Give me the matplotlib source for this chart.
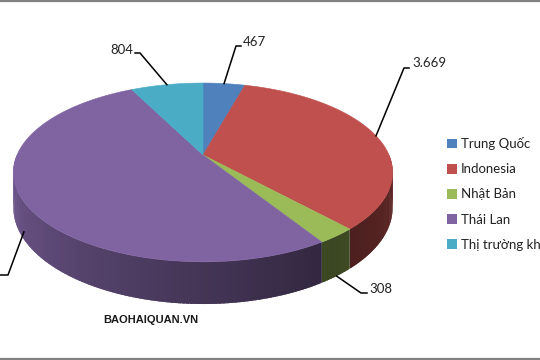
import numpy as np
import matplotlib
matplotlib.use("Agg")
import matplotlib.pyplot as plt
from matplotlib.patches import Patch
from matplotlib.lines import Line2D
from matplotlib.colors import to_rgb

plt.rcParams['font.family'] = ['Lato', 'Noto Sans', 'DejaVu Sans']

# --- dữ liệu ---
categories = ['Trung Quốc', 'Indonesia', 'Nhật Bản', 'Thái Lan', 'Thị trường khác']
values = [467, 3669, 308, 5580, 804]
value_labels = ['467', '3.669', '308', '5.580', '804']
colors = ['#4f81bd', '#c0504d', '#9bbb59', '#8064a2', '#4bacc6']

# --- hình chiếu phối cảnh của bánh 3D ---
K = 0.195       # mức phối cảnh (phía sau nhỏ lại)
THICK = 0.395   # độ dày bánh
CX, CY, SX, SY = 203, 155, 186, 86   # vị trí tâm và tỷ lệ (pixel)


def proj(theta, r=1.0, z=0.0):
    t = np.radians(theta)
    X = r * np.sin(t)
    Y = r * np.cos(t)
    w = 1 + K * Y
    return X / w, (Y + z) / w


def px(x, y):
    # đổi toạ độ pixel của ảnh sang toạ độ trục
    return (x - CX) / SX, (CY - y) / SY


def shade(theta):
    if theta >= 145:
        return min(0.88, 0.38 + 0.0043 * (theta - 145))
    return min(0.6, 0.38 + 0.0025 * (145 - theta))


fig = plt.figure(figsize=(5.4, 3.6), dpi=100)
ax = fig.add_axes([0, 0, 1, 1])
ax.set_xlim(px(0, 0)[0], px(540, 0)[0])
ax.set_ylim(px(0, 360)[1], px(0, 0)[1])
ax.axis('off')

total = sum(values)
ends = np.cumsum(values) / total * 360
starts = np.concatenate([[0], ends[:-1]])

# mặt bên (chỉ nửa phía trước), chia thành dải nhỏ để tô chuyển màu
quads = []
for s, e, c in zip(starts, ends, colors):
    a, b = max(s, 90), min(e, 270)
    if a >= b:
        continue
    n = max(2, int((b - a) / 1.0))
    th = np.linspace(a, b, n + 1)
    base = np.array(to_rgb(c))
    for t1, t2 in zip(th[:-1], th[1:]):
        tm = (t1 + t2) / 2
        # chồng lên dải kế bên một chút để không thấy đường nối
        lo = t1 - 0.4 if t1 > a else t1
        hi = t2 + 0.4 if t2 < b else t2
        pts = [proj(lo), proj(hi), proj(hi, z=-THICK), proj(lo, z=-THICK)]
        col = np.clip(base * shade(tm), 0, 1)
        quads.append((np.cos(np.radians(tm)), pts, col))

quads.sort(key=lambda q: -q[0])
for _, pts, col in quads:
    xs, ys = zip(*pts)
    ax.fill(xs, ys, color=col, lw=0)

# mặt trên
for s, e, c in zip(starts, ends, colors):
    th = np.linspace(s, e, max(3, int(e - s) * 2))
    xs, ys = proj(th)
    xs = np.concatenate([[0], xs])
    ys = np.concatenate([[0], ys])
    ax.fill(xs, ys, color=c, lw=0.4, ec=c)

# nhãn giá trị với đường dẫn
label_layout = [
    # (z trên mép, điểm gấp, điểm cuối, vị trí chữ, căn lề)
    (0.0, (236, 46), (241, 46), (243, 42), 'left'),
    (0.0, (404, 68), (409, 68), (412, 63), 'left'),
    (-THICK, (361, 293), (367, 293), (369, 289), 'left'),
    (-THICK * 0.8, (8, 275), (-5, 275), (-8, 271), 'right'),
    (0.0, (140, 53), (135, 53), (133, 50), 'right'),
]
mids = (starts + ends) / 2
for m, lab, (z, elbow, end, tpos, ha) in zip(mids, value_labels, label_layout):
    x0, y0 = proj(m, z=z)
    x1, y1 = px(*elbow)
    x2, y2 = px(*end)
    ax.plot([x0, x1, x2], [y0, y1, y2], color='black', lw=1.1, clip_on=False)
    ax.text(*px(*tpos), lab, ha=ha, va='center', fontsize=9.5, color='#222222')

# chú giải
handles = [Patch(facecolor=c, edgecolor='none') for c in colors]
fig.legend(handles, categories, loc='center left',
           bbox_to_anchor=(447 / 540, 1 - 194 / 360), frameon=False,
           handlelength=0.75, handleheight=0.75, handletextpad=0.3,
           labelspacing=1.0, borderpad=0, borderaxespad=0, fontsize=9.5,
           labelcolor='#222222')

fig.text(103 / 540, 1 - 320 / 360, 'BAOHAIQUAN.VN', fontsize=8, fontweight='bold',
         family='Liberation Sans', color='#1a1a1a', va='center', ha='left')

# viền xám trên/dưới
fig.add_artist(Line2D([0, 1], [0.997, 0.997], transform=fig.transFigure, color='#808080', lw=1.6))
fig.add_artist(Line2D([0, 1], [0.003, 0.003], transform=fig.transFigure, color='#808080', lw=1.6))

fig.savefig('out.png', dpi=100, facecolor='white')
